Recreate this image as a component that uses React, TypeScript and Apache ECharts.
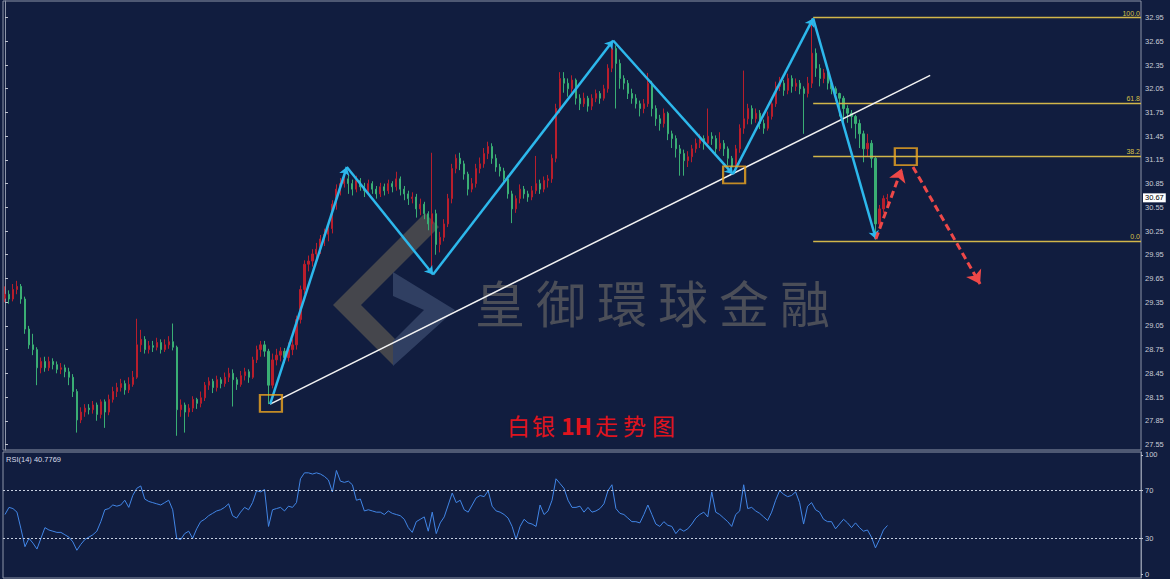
import React, { useEffect, useRef } from "react";
import * as echarts from "echarts";

// ---- data ----
const candles: number[][] = [
[29.40,29.45,29.35,29.55],[29.45,29.39,29.33,29.50],[29.39,29.51,29.36,29.58],[29.51,29.55,29.45,29.62],
[29.55,29.39,29.33,29.58],[29.39,29.01,28.95,29.42],[29.01,28.81,28.76,29.05],[28.81,28.75,28.68,28.95],
[28.75,28.52,28.30,28.78],[28.52,28.60,28.45,28.65],[28.60,28.52,28.47,28.66],[28.52,28.60,28.48,28.66],
[28.60,28.56,28.50,28.64],[28.56,28.50,28.45,28.60],[28.50,28.52,28.44,28.58],[28.52,28.47,28.40,28.56],
[28.47,28.40,28.30,28.52],[28.40,28.22,28.15,28.44],[28.22,27.86,27.70,28.25],[27.86,27.96,27.82,28.02],
[27.96,28.01,27.90,28.06],[28.01,27.99,27.93,28.06],[27.99,28.05,27.94,28.10],[28.05,27.93,27.85,28.08],
[27.93,28.09,27.88,28.12],[28.09,27.96,27.76,28.12],[27.96,28.12,27.92,28.18],[28.12,28.22,28.08,28.28],
[28.22,28.27,28.15,28.33],[28.27,28.32,28.22,28.38],[28.32,28.24,28.18,28.36],[28.24,28.31,28.20,28.40],
[28.31,28.40,28.28,28.48],[28.40,28.81,28.38,29.14],[28.81,28.88,28.72,29.00],[28.88,28.75,28.70,28.92],
[28.75,28.80,28.70,28.86],[28.80,28.78,28.72,28.86],[28.78,28.84,28.74,28.90],[28.84,28.75,28.70,28.88],
[28.75,28.81,28.72,28.88],[28.81,28.85,28.76,28.92],[28.85,28.78,28.74,29.08],[28.78,27.99,27.66,28.80],
[27.99,28.05,27.90,28.12],[28.05,27.96,27.70,28.08],[27.96,28.01,27.90,28.06],[28.01,28.12,27.96,28.16],
[28.12,28.07,28.00,28.14],[28.07,28.14,28.02,28.22],[28.14,28.30,28.10,28.34],[28.30,28.35,28.24,28.40],
[28.35,28.27,28.20,28.38],[28.27,28.37,28.22,28.42],[28.37,28.32,28.26,28.40],[28.32,28.40,28.28,28.46],
[28.40,28.45,28.34,28.52],[28.45,28.37,28.03,28.50],[28.37,28.31,28.24,28.40],[28.31,28.42,28.28,28.48],
[28.42,28.47,28.36,28.52],[28.47,28.40,28.33,28.50],[28.40,28.62,28.38,28.66],[28.62,28.75,28.58,28.80],
[28.75,28.81,28.66,28.86],[28.81,28.73,28.66,28.86],[28.73,28.30,28.06,28.76],[28.30,28.62,28.26,28.70],
[28.62,28.68,28.55,28.76],[28.68,28.73,28.60,28.78],[28.73,28.65,28.58,28.77],[28.65,28.75,28.60,28.84],
[28.75,28.81,28.68,28.88],[28.81,29.13,28.75,29.18],[29.13,29.51,29.08,29.56],[29.51,29.83,29.45,29.88],
[29.83,29.87,29.74,29.94],[29.87,29.96,29.80,30.02],[29.96,30.02,29.88,30.10],[30.02,30.15,29.96,30.20],
[30.15,30.21,30.06,30.28],[30.21,30.28,30.12,30.34],[30.28,30.59,30.22,30.64],[30.59,30.78,30.52,30.84],
[30.78,30.85,30.70,30.92],[30.85,30.91,30.80,31.02],[30.91,30.85,30.72,30.96],[30.85,30.78,30.70,30.90],
[30.78,30.89,30.74,30.95],[30.89,30.81,30.76,30.92],[30.81,30.76,30.68,30.86],[30.76,30.85,30.72,30.90],
[30.85,30.78,30.72,30.88],[30.78,30.72,30.66,30.82],[30.72,30.81,30.68,30.86],[30.81,30.76,30.70,30.85],
[30.76,30.85,30.72,30.90],[30.85,30.81,30.74,30.88],[30.81,30.91,30.76,31.00],[30.91,30.78,30.70,30.94],
[30.78,30.72,30.64,30.82],[30.72,30.66,30.58,30.76],[30.66,30.68,30.60,30.74],[30.68,30.53,30.42,30.72],
[30.53,30.59,30.45,30.66],[30.59,30.47,30.40,30.62],[30.47,30.34,30.26,30.50],[30.34,30.47,29.78,31.24],
[30.47,30.08,29.95,30.52],[30.08,30.17,29.98,30.24],[30.17,30.34,30.12,30.40],[30.34,30.66,30.30,30.72],
[30.66,31.04,30.60,31.10],[31.04,31.17,30.98,31.22],[31.17,31.10,31.02,31.24],[31.10,30.97,30.90,31.14],
[30.97,30.78,30.70,31.00],[30.78,30.85,30.74,30.92],[30.85,31.04,30.80,31.10],[31.04,31.10,30.98,31.18],
[31.10,31.23,31.05,31.30],[31.23,31.32,31.16,31.38],[31.32,31.17,31.10,31.36],[31.17,31.06,31.00,31.22],
[31.06,31.01,30.94,31.10],[31.01,30.91,30.85,31.05],[30.91,30.72,30.66,30.95],[30.72,30.53,30.35,30.76],
[30.53,30.66,30.48,30.70],[30.66,30.78,30.60,30.84],[30.78,30.72,30.66,30.82],[30.72,30.68,30.62,30.76],
[30.68,30.76,30.64,30.82],[30.76,30.85,30.72,31.20],[30.85,30.78,30.72,30.90],[30.78,30.89,30.74,30.94],
[30.89,30.91,30.80,30.96],[30.91,31.17,30.86,31.22],[31.17,31.80,31.12,31.86],[31.80,32.18,31.74,32.26],
[32.18,32.12,32.00,32.26],[32.12,32.05,31.95,32.18],[32.05,32.16,32.00,32.22],[32.16,31.93,31.85,32.18],
[31.93,31.86,31.78,31.98],[31.86,31.93,31.82,32.00],[31.93,31.83,31.76,31.96],[31.83,31.93,31.78,31.98],
[31.93,31.99,31.88,32.04],[31.99,31.93,31.86,32.02],[31.93,32.05,31.90,32.10],[32.05,32.31,32.00,32.36],
[32.31,32.56,32.26,32.65],[32.56,32.37,31.80,32.60],[32.37,32.18,32.05,32.42],[32.18,32.12,32.04,32.22],
[32.12,31.99,31.92,32.16],[31.99,31.93,31.86,32.05],[31.93,31.86,31.80,31.98],[31.86,31.80,31.70,31.90],
[31.80,31.86,31.74,31.92],[31.86,32.12,31.82,32.25],[32.12,31.80,31.70,32.15],[31.80,31.67,31.58,31.84],
[31.67,31.61,31.52,31.72],[31.61,31.74,31.56,31.80],[31.74,31.48,31.40,31.76],[31.48,31.42,31.30,31.52],
[31.42,31.29,31.18,31.46],[31.29,31.23,30.95,31.34],[31.23,31.14,30.95,31.28],[31.14,31.19,31.06,31.26],
[31.19,31.29,31.12,31.34],[31.29,31.36,31.24,31.42],[31.36,31.42,31.30,31.48],[31.42,31.36,31.28,31.46],
[31.36,31.45,31.32,31.80],[31.45,31.42,31.34,31.50],[31.42,31.29,31.22,31.46],[31.29,31.36,31.26,31.50],
[31.36,31.29,31.20,31.40],[31.29,31.17,31.08,31.32],[31.17,31.06,30.98,31.20],[31.06,31.29,31.02,31.34],
[31.29,31.55,31.24,31.60],[31.55,31.67,31.48,32.28],[31.67,31.80,31.60,31.86],[31.80,31.67,31.60,31.84],
[31.67,31.74,31.62,31.80],[31.74,31.61,31.54,31.78],[31.61,31.55,31.48,31.66],[31.55,31.70,31.52,31.76],
[31.70,31.86,31.66,31.92],[31.86,32.08,31.82,32.14],[32.08,32.12,32.02,32.20],[32.12,32.03,31.96,32.16],
[32.03,32.18,31.98,32.24],[32.18,32.08,32.00,32.22],[32.08,32.12,32.02,32.18],[32.12,32.05,31.98,32.16],
[32.05,31.99,31.48,32.08],[31.99,32.12,31.94,32.20],[32.12,32.50,32.06,32.94],[32.50,32.31,32.20,32.56],
[32.31,32.18,32.08,32.36],[32.18,32.25,32.12,32.30],[32.25,32.12,32.04,32.28],[32.12,32.05,31.98,32.16],
[32.05,31.99,31.90,32.08],[31.99,31.93,31.70,32.00],[31.93,31.80,31.60,31.96],[31.80,31.74,31.62,31.84],
[31.74,31.70,31.55,31.78],[31.70,31.61,31.42,31.72],[31.61,31.48,31.30,31.66],[31.48,31.29,31.12,31.52],
[31.29,31.36,31.20,31.48],[31.36,31.17,31.05,31.40],[31.17,30.34,30.14,31.20],[30.34,30.53,30.28,30.58],
[30.53,30.66,30.48,30.70],[30.66,30.67,30.60,30.72]
];

const rsi: number[] = [
50,56,55,52,38,23,30,26,21,30,39,37,36,35,35,33,31,27,20,25,
29,31,33,36,44,54,55,58,57,58,62,56,66,72,74,63,61,60,59,58,
60,62,54,30,29,34,36,30,38,44,46,49,51,53,54,56,59,49,47,52,
56,54,60,70,69,71,40,54,55,56,53,57,56,60,80,85,85,84,85,84,
82,79,69,87,78,77,78,75,62,63,53,54,53,52,52,50,53,51,50,49,
46,39,35,44,46,48,36,52,34,43,48,58,68,60,62,54,52,58,64,66,
65,70,57,53,52,50,47,40,29,40,46,43,42,40,58,50,53,62,80,76,
72,62,56,56,57,52,56,52,53,55,59,70,75,55,51,50,47,44,44,43,
50,58,50,42,40,44,41,40,34,38,36,38,42,47,50,52,48,69,52,50,
47,44,40,50,53,75,55,56,53,51,48,45,52,62,70,67,65,66,69,60,
42,57,60,54,52,46,44,44,38,42,46,43,39,43,39,36,37,31,22,29,
37,40.78
];

const totalSlots = 285;
const hours: string[] = Array.from({ length: totalSlots }, (_, i) => "H" + i);

const priceTicks = [27.55,27.85,28.15,28.45,28.75,29.05,29.35,29.65,29.95,30.25,30.55,30.85,31.15,31.45,31.75,32.05,32.35,32.65,32.95];
const rsiTicks = [0, 30, 70, 100];
const rsiLevels = [70, 30];
const lastPrice = 30.67;
const rsiLabel = "RSI(14) 40.7769";

// zigzag wave points (bar index, price)
const zigIdx = [66.4, 85.6, 107.2, 152.3, 182.3, 202.4, 218.1];
const zigPrice = [28.06, 31.06, 29.70, 32.66, 30.97, 32.94, 30.15];

// trend line
const trendIdx = [66.4, 231.7];
const trendPrice = [28.06, 32.22];

// projected moves (red dashed)
const projIdx = [[218.1, 224.6], [227.4, 244.2]];
const projPrice = [[30.15, 31.04], [31.06, 29.58]];

// highlight boxes
const boxIdx = [66.6, 182.6, 225.6];
const boxPrice = [28.07, 30.96, 31.19];

// fibonacci retracement
const fibStartIdx = 202.4;
const fibHigh = 32.95;
const fibLow = 30.12;
const fibRatios = [1, 0.618, 0.382, 0];
const fibNames = ["100.0", "61.8", "38.2", "0.0"];

const titleChars = ["白", "银", "1H", "走", "势", "图"];
const watermarkChars = ["皇", "御", "環", "球", "金", "融"];

export default function App() {
  const ref = useRef<HTMLDivElement>(null);
  useEffect(() => {
    document.body.style.margin = "0";
    const chart = echarts.init(ref.current as HTMLDivElement, null, { renderer: "svg" });
    const zigSegs = zigIdx.slice(1).map((x, i) => ({
      coords: [[zigIdx[i], zigPrice[i]], [x, zigPrice[i + 1]]],
    }));
    const projSegs = projIdx.map((xs, i) => ({
      coords: [[xs[0], projPrice[i][0]], [xs[1], projPrice[i][1]]],
    }));
    const fibColor = "#d2b64a";
    const fibMarks = fibRatios.map((r, i) => {
      const lv = fibLow + (fibHigh - fibLow) * r;
      return [
        { name: fibNames[i], coord: [fibStartIdx, lv] },
        { coord: [totalSlots - 0.5, lv] },
      ];
    });
    const titleX = [507, 532, 561, 595, 623, 652];
    const axisFont = "Liberation Sans";
    const option: any = {
      animation: false,
      backgroundColor: "#111d3f",
      grid: [
        { left: 3, right: 29, top: 1, height: 449, show: true, borderColor: "#8d95a8", borderWidth: 1 },
        { left: 3, right: 29, top: 452, height: 126, show: true, borderColor: "#8d95a8", borderWidth: 1 },
      ],
      xAxis: [
        { type: "category", gridIndex: 0, data: hours, show: false, boundaryGap: true },
        { type: "value", gridIndex: 0, min: -0.5, max: totalSlots - 0.5, show: false },
        { type: "category", gridIndex: 1, data: hours, show: false, boundaryGap: true },
      ],
      yAxis: [
        {
          type: "value", gridIndex: 0, position: "right", min: 27.48, max: 33.16, scale: true,
          splitLine: { show: false },
          axisLine: { show: true, lineStyle: { color: "#8d95a8" } },
          axisTick: { show: true, customValues: priceTicks, length: 3, lineStyle: { color: "#c0c4d0" } },
          axisLabel: { customValues: priceTicks, formatter: (v: number) => v.toFixed(2), color: "#c8ccd6", fontSize: 7.5, fontFamily: axisFont, margin: 4 },
        },
        {
          type: "value", gridIndex: 1, position: "right", min: -3.3, max: 102.5,
          splitLine: { show: false },
          axisLine: { show: true, lineStyle: { color: "#8d95a8" } },
          axisTick: { show: true, customValues: rsiTicks, length: 2, lineStyle: { color: "#c0c4d0" } },
          axisLabel: { customValues: rsiTicks, formatter: (v: number) => String(v), color: "#c8ccd6", fontSize: 7.5, fontFamily: axisFont, margin: 4 },
        },
      ],
      series: [
        {
          type: "candlestick", xAxisIndex: 0, yAxisIndex: 0, data: candles, barWidth: 1.6, z: 3,
          itemStyle: { color: "#b81e2c", color0: "#3aae74", borderColor: "#b81e2c", borderColor0: "#3aae74", borderWidth: 1 },
          markLine: {
            silent: true, symbol: "none",
            lineStyle: { color: "rgba(0,0,0,0)", width: 1 },
            label: { show: true, position: "end", distance: 2, formatter: lastPrice.toFixed(2), backgroundColor: "#ffffff", color: "#000000", padding: [1, 2, 0, 2], fontSize: 7.5, fontFamily: axisFont },
            data: [{ yAxis: lastPrice }],
          },
        },
        {
          type: "line", xAxisIndex: 1, yAxisIndex: 0, z: 4,
          data: [[fibStartIdx, fibHigh]], showSymbol: false, symbol: "none",
          lineStyle: { width: 0 },
          markLine: {
            silent: true, symbol: ["none", "none"],
            lineStyle: { color: fibColor, width: 1.4, type: "solid", opacity: 1 },
            label: { show: true, position: "insideEndTop", formatter: (p: any) => p.name, color: "#d8c048", fontSize: 7, fontFamily: axisFont, distance: 1 },
            emphasis: { disabled: true },
            data: fibMarks,
          },
        },
        {
          type: "lines", coordinateSystem: "cartesian2d", xAxisIndex: 1, yAxisIndex: 0, z: 5,
          symbol: ["none", "none"],
          lineStyle: { color: "#f2f2f2", width: 1.5, opacity: 1 },
          data: [{ coords: [[trendIdx[0], trendPrice[0]], [trendIdx[1], trendPrice[1]]] }],
        },
        {
          type: "lines", coordinateSystem: "cartesian2d", xAxisIndex: 1, yAxisIndex: 0, z: 6,
          symbol: ["none", "arrow"], symbolSize: 8,
          lineStyle: { color: "#2db8ec", width: 2.5, opacity: 1 },
          data: zigSegs,
        },
        {
          type: "lines", coordinateSystem: "cartesian2d", xAxisIndex: 1, yAxisIndex: 0, z: 6,
          symbol: ["none", "arrow"], symbolSize: 13,
          lineStyle: { color: "#ee4848", width: 3, type: [7, 4], opacity: 1 },
          data: projSegs,
        },
        {
          type: "scatter", xAxisIndex: 1, yAxisIndex: 0, z: 7,
          symbol: "rect", symbolSize: [22, 17],
          itemStyle: { color: "rgba(0,0,0,0)", borderColor: "#f0a820", borderWidth: 2 },
          data: boxIdx.map((x, i) => [x, boxPrice[i]]),
        },
        {
          type: "line", xAxisIndex: 2, yAxisIndex: 1, data: rsi, showSymbol: false, z: 3,
          lineStyle: { color: "#4286e6", width: 1 },
          markLine: {
            silent: true, symbol: "none", label: { show: false },
            lineStyle: { color: "#c8d0e0", type: [2, 2], width: 1 },
            data: rsiLevels.map((v) => ({ yAxis: v })),
          },
        },
      ],
      graphic: [
        {
          type: "polygon", z: -1, silent: true,
          shape: { points: [[425, 213], [333, 305], [393, 365], [407, 351], [361, 305], [439, 227]] },
          style: { fill: "#45464c" },
        },
        {
          type: "polygon", z: -1, silent: true,
          shape: { points: [[393, 272], [455, 310], [393, 366], [393, 341], [424, 310], [393, 296]] },
          style: { fill: "#303f62" },
        },
        ...watermarkChars.map((c, i) => ({
          type: "text", z: -1, silent: true, left: 475 + i * 61, top: 276,
          style: { text: c, fill: "#4b4e58", font: "normal 50px 'Noto Sans CJK TC'" },
        })),
        ...titleChars.map((c, i) => ({
          type: "text", silent: true, left: titleX[i], top: 413,
          style: { text: c, fill: "#e0141e", font: (c === "1H" ? "bold " : "normal ") + "23px 'Noto Sans CJK SC'" },
        })),
        {
          type: "text", silent: true, left: 6, top: 455,
          style: { text: rsiLabel, fill: "#d8dce8", font: "normal 7.5px 'Liberation Sans'" },
        },
      ],
    };
    chart.setOption(option);
    return () => chart.dispose();
  }, []);
  return <div ref={ref} style={{ width: 1170, height: 579 }} />;
}
